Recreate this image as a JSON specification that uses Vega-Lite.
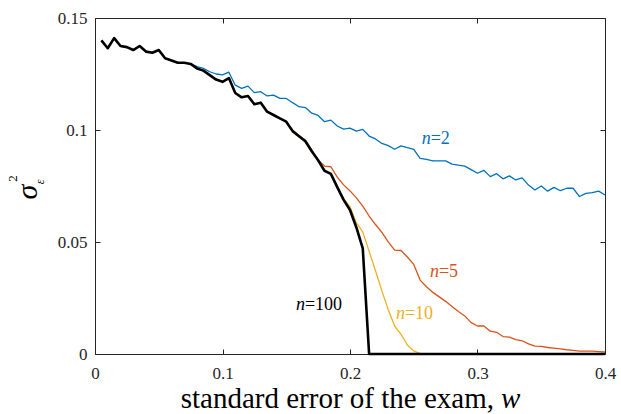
{
  "$schema": "https://vega.github.io/schema/vega-lite/v6.json",
  "width": 510,
  "height": 336,
  "autosize": {"type": "none"},
  "padding": {"left": 95, "top": 18, "right": 16, "bottom": 60},
  "background": "white",
  "config": {
    "view": {"stroke": null},
    "axis": {
      "domainColor": "#262626",
      "domainWidth": 1,
      "tickColor": "#262626",
      "tickWidth": 1,
      "tickSize": -5,
      "labelFont": "Liberation Serif",
      "labelFontSize": 17,
      "labelColor": "#262626",
      "grid": false,
      "title": null,
      "labelFlush": false,
      "labelOverlap": false,
      "labelBound": false
    }
  },
  "datasets": {
    "curves": [
      {"w": 0.005, "n2": 0.1400, "n5": 0.1400, "n10": 0.1400, "n100": 0.1400},
      {"w": 0.010, "n2": 0.1365, "n5": 0.1365, "n10": 0.1365, "n100": 0.1365},
      {"w": 0.015, "n2": 0.1410, "n5": 0.1410, "n10": 0.1410, "n100": 0.1410},
      {"w": 0.020, "n2": 0.1375, "n5": 0.1375, "n10": 0.1375, "n100": 0.1375},
      {"w": 0.025, "n2": 0.1370, "n5": 0.1370, "n10": 0.1370, "n100": 0.1370},
      {"w": 0.030, "n2": 0.1357, "n5": 0.1357, "n10": 0.1357, "n100": 0.1357},
      {"w": 0.035, "n2": 0.1375, "n5": 0.1375, "n10": 0.1375, "n100": 0.1375},
      {"w": 0.040, "n2": 0.1350, "n5": 0.1350, "n10": 0.1350, "n100": 0.1350},
      {"w": 0.045, "n2": 0.1345, "n5": 0.1345, "n10": 0.1345, "n100": 0.1345},
      {"w": 0.050, "n2": 0.1357, "n5": 0.1357, "n10": 0.1357, "n100": 0.1357},
      {"w": 0.055, "n2": 0.1320, "n5": 0.1320, "n10": 0.1320, "n100": 0.1320},
      {"w": 0.060, "n2": 0.1310, "n5": 0.1310, "n10": 0.1310, "n100": 0.1310},
      {"w": 0.065, "n2": 0.1300, "n5": 0.1300, "n10": 0.1300, "n100": 0.1300},
      {"w": 0.070, "n2": 0.1300, "n5": 0.1300, "n10": 0.1300, "n100": 0.1300},
      {"w": 0.075, "n2": 0.1295, "n5": 0.1295, "n10": 0.1295, "n100": 0.1295},
      {"w": 0.080, "n2": 0.1283, "n5": 0.1275, "n10": 0.1275, "n100": 0.1275},
      {"w": 0.085, "n2": 0.1275, "n5": 0.1265, "n10": 0.1265, "n100": 0.1265},
      {"w": 0.090, "n2": 0.1260, "n5": 0.1245, "n10": 0.1245, "n100": 0.1245},
      {"w": 0.095, "n2": 0.1250, "n5": 0.1225, "n10": 0.1225, "n100": 0.1225},
      {"w": 0.100, "n2": 0.1246, "n5": 0.1215, "n10": 0.1215, "n100": 0.1215},
      {"w": 0.105, "n2": 0.1258, "n5": 0.1232, "n10": 0.1232, "n100": 0.1232},
      {"w": 0.110, "n2": 0.1200, "n5": 0.1165, "n10": 0.1165, "n100": 0.1165},
      {"w": 0.115, "n2": 0.1186, "n5": 0.1146, "n10": 0.1146, "n100": 0.1146},
      {"w": 0.120, "n2": 0.1196, "n5": 0.1152, "n10": 0.1152, "n100": 0.1152},
      {"w": 0.125, "n2": 0.1167, "n5": 0.1115, "n10": 0.1115, "n100": 0.1115},
      {"w": 0.130, "n2": 0.1171, "n5": 0.1122, "n10": 0.1122, "n100": 0.1122},
      {"w": 0.135, "n2": 0.1152, "n5": 0.1082, "n10": 0.1082, "n100": 0.1082},
      {"w": 0.140, "n2": 0.1156, "n5": 0.1067, "n10": 0.1067, "n100": 0.1067},
      {"w": 0.145, "n2": 0.1141, "n5": 0.1052, "n10": 0.1052, "n100": 0.1052},
      {"w": 0.150, "n2": 0.1141, "n5": 0.1037, "n10": 0.1037, "n100": 0.1037},
      {"w": 0.155, "n2": 0.1122, "n5": 0.0998, "n10": 0.0995, "n100": 0.0995},
      {"w": 0.160, "n2": 0.1104, "n5": 0.0975, "n10": 0.0972, "n100": 0.0972},
      {"w": 0.165, "n2": 0.1100, "n5": 0.0955, "n10": 0.0950, "n100": 0.0950},
      {"w": 0.170, "n2": 0.1075, "n5": 0.0910, "n10": 0.0905, "n100": 0.0905},
      {"w": 0.175, "n2": 0.1065, "n5": 0.0866, "n10": 0.0865, "n100": 0.0865},
      {"w": 0.180, "n2": 0.1037, "n5": 0.0839, "n10": 0.0818, "n100": 0.0818},
      {"w": 0.185, "n2": 0.1044, "n5": 0.0836, "n10": 0.0804, "n100": 0.0804},
      {"w": 0.190, "n2": 0.1018, "n5": 0.0790, "n10": 0.0747, "n100": 0.0745},
      {"w": 0.195, "n2": 0.1004, "n5": 0.0755, "n10": 0.0695, "n100": 0.0688},
      {"w": 0.200, "n2": 0.1008, "n5": 0.0728, "n10": 0.0657, "n100": 0.0643},
      {"w": 0.205, "n2": 0.0995, "n5": 0.0697, "n10": 0.0585, "n100": 0.0565},
      {"w": 0.210, "n2": 0.1003, "n5": 0.0660, "n10": 0.0545, "n100": 0.0472},
      {"w": 0.215, "n2": 0.0973, "n5": 0.0616, "n10": 0.0458, "n100": 0},
      {"w": 0.220, "n2": 0.0960, "n5": 0.0578, "n10": 0.0372, "n100": 0},
      {"w": 0.225, "n2": 0.0940, "n5": 0.0543, "n10": 0.0282, "n100": 0},
      {"w": 0.230, "n2": 0.0930, "n5": 0.0501, "n10": 0.0198, "n100": 0},
      {"w": 0.235, "n2": 0.0914, "n5": 0.0464, "n10": 0.0125, "n100": 0},
      {"w": 0.240, "n2": 0.0929, "n5": 0.0462, "n10": 0.0088, "n100": 0},
      {"w": 0.245, "n2": 0.0921, "n5": 0.0433, "n10": 0.0040, "n100": 0},
      {"w": 0.250, "n2": 0.0914, "n5": 0.0400, "n10": 0.0014, "n100": 0},
      {"w": 0.255, "n2": 0.0873, "n5": 0.0330, "n10": 0.0002, "n100": 0},
      {"w": 0.260, "n2": 0.0869, "n5": 0.0300, "n10": 0, "n100": 0},
      {"w": 0.265, "n2": 0.0862, "n5": 0.0275, "n10": 0, "n100": 0},
      {"w": 0.270, "n2": 0.0862, "n5": 0.0255, "n10": 0, "n100": 0},
      {"w": 0.275, "n2": 0.0862, "n5": 0.0235, "n10": 0, "n100": 0},
      {"w": 0.280, "n2": 0.0848, "n5": 0.0212, "n10": 0, "n100": 0},
      {"w": 0.285, "n2": 0.0843, "n5": 0.0190, "n10": 0, "n100": 0},
      {"w": 0.290, "n2": 0.0839, "n5": 0.0170, "n10": 0, "n100": 0},
      {"w": 0.295, "n2": 0.0823, "n5": 0.0140, "n10": 0, "n100": 0},
      {"w": 0.300, "n2": 0.0807, "n5": 0.0125, "n10": 0, "n100": 0},
      {"w": 0.305, "n2": 0.0820, "n5": 0.0125, "n10": 0, "n100": 0},
      {"w": 0.310, "n2": 0.0792, "n5": 0.0102, "n10": 0, "n100": 0},
      {"w": 0.315, "n2": 0.0805, "n5": 0.0097, "n10": 0, "n100": 0},
      {"w": 0.320, "n2": 0.0782, "n5": 0.0078, "n10": 0, "n100": 0},
      {"w": 0.325, "n2": 0.0795, "n5": 0.0075, "n10": 0, "n100": 0},
      {"w": 0.330, "n2": 0.0777, "n5": 0.0064, "n10": 0, "n100": 0},
      {"w": 0.335, "n2": 0.0786, "n5": 0.0059, "n10": 0, "n100": 0},
      {"w": 0.340, "n2": 0.0754, "n5": 0.0045, "n10": 0, "n100": 0},
      {"w": 0.345, "n2": 0.0732, "n5": 0.0035, "n10": 0, "n100": 0},
      {"w": 0.350, "n2": 0.0750, "n5": 0.0034, "n10": 0, "n100": 0},
      {"w": 0.355, "n2": 0.0727, "n5": 0.0029, "n10": 0, "n100": 0},
      {"w": 0.360, "n2": 0.0744, "n5": 0.0026, "n10": 0, "n100": 0},
      {"w": 0.365, "n2": 0.0729, "n5": 0.0023, "n10": 0, "n100": 0},
      {"w": 0.370, "n2": 0.0740, "n5": 0.0019, "n10": 0, "n100": 0},
      {"w": 0.375, "n2": 0.0740, "n5": 0.0016, "n10": 0, "n100": 0},
      {"w": 0.380, "n2": 0.0703, "n5": 0.0013, "n10": 0, "n100": 0},
      {"w": 0.385, "n2": 0.0717, "n5": 0.0013, "n10": 0, "n100": 0},
      {"w": 0.390, "n2": 0.0720, "n5": 0.0013, "n10": 0, "n100": 0},
      {"w": 0.395, "n2": 0.0727, "n5": 0.0011, "n10": 0, "n100": 0},
      {"w": 0.400, "n2": 0.0710, "n5": 0.0009, "n10": 0, "n100": 0}
    ],
    "labels": [
      {"s": "n2", "x": 0.2562, "y": 0.0938, "rest": "=2"},
      {"s": "n5", "x": 0.2627, "y": 0.0345, "rest": "=5"},
      {"s": "n10", "x": 0.2360, "y": 0.0155, "rest": "=10"},
      {"s": "n100", "x": 0.1576, "y": 0.0196, "rest": "=100"}
    ],
    "titles": [
      {"id": "sigma", "text": "σ", "x": -0.0455, "y": 0.0723},
      {"id": "sup", "text": "2", "x": -0.0612, "y": 0.0783},
      {"id": "sub", "text": "ε", "x": -0.0400, "y": 0.0768},
      {"id": "xmain", "text": "standard error of the exam,", "x": 0.3129, "y": -0.0239},
      {"id": "xw", "text": "w", "x": 0.3129, "y": -0.0239}
    ]
  },
  "layer": [
    {
      "data": {"name": "curves"},
      "transform": [{"fold": ["n2", "n5", "n10"], "as": ["series", "v"]}],
      "mark": {"type": "line", "strokeWidth": 1.3, "strokeJoin": "round"},
      "encoding": {
        "x": {"field": "w", "type": "quantitative", "scale": {"domain": [0, 0.4]},
              "axis": {"orient": "bottom", "values": [0, 0.1, 0.2, 0.3, 0.4], "labelExpr": "'' + datum.value", "labelPadding": 16}},
        "y": {"field": "v", "type": "quantitative", "scale": {"domain": [0, 0.15]},
              "axis": {"orient": "left", "values": [0, 0.05, 0.1, 0.15], "labelExpr": "'' + datum.value", "labelPadding": 13}},
        "color": {"field": "series", "type": "nominal",
                  "scale": {"domain": ["n2", "n5", "n10", "n100"], "range": ["#0072BD", "#D95319", "#EDB120", "#000000"]},
                  "legend": null}
      }
    },
    {
      "data": {"name": "curves"},
      "mark": {"type": "line", "strokeWidth": 2.6, "color": "#000000", "strokeJoin": "round"},
      "encoding": {
        "x": {"field": "w", "type": "quantitative", "scale": {"domain": [0, 0.4]}, "axis": null},
        "y": {"field": "n100", "type": "quantitative", "scale": {"domain": [0, 0.15]}, "axis": null}
      }
    },
    {
      "data": {"name": "curves"},
      "mark": {"type": "point", "opacity": 0},
      "encoding": {
        "x": {"field": "w", "type": "quantitative", "scale": {"domain": [0, 0.4]},
              "axis": {"orient": "top", "values": [0, 0.1, 0.2, 0.3, 0.4], "labels": false}},
        "y": {"field": "n100", "type": "quantitative", "scale": {"domain": [0, 0.15]},
              "axis": {"orient": "right", "values": [0, 0.05, 0.1, 0.15], "labels": false}}
      }
    },
    {
      "data": {"name": "labels"},
      "mark": {"type": "text", "text": "n", "align": "left", "baseline": "alphabetic", "font": "Liberation Serif", "fontStyle": "italic", "fontSize": 18},
      "encoding": {
        "x": {"field": "x", "type": "quantitative", "scale": {"domain": [0, 0.4]}, "axis": null},
        "y": {"field": "y", "type": "quantitative", "scale": {"domain": [0, 0.15]}, "axis": null},
        "color": {"field": "s", "type": "nominal", "legend": null}
      }
    },
    {
      "data": {"name": "labels"},
      "mark": {"type": "text", "dx": 9, "align": "left", "baseline": "alphabetic", "font": "Liberation Serif", "fontSize": 18},
      "encoding": {
        "x": {"field": "x", "type": "quantitative", "scale": {"domain": [0, 0.4]}, "axis": null},
        "y": {"field": "y", "type": "quantitative", "scale": {"domain": [0, 0.15]}, "axis": null},
        "text": {"field": "rest"},
        "color": {"field": "s", "type": "nominal", "legend": null}
      }
    },
    {
      "data": {"name": "titles"},
      "transform": [{"filter": "datum.id == 'sigma'"}],
      "mark": {"type": "text", "angle": 270, "align": "center", "baseline": "alphabetic", "font": "Liberation Serif", "fontStyle": "italic", "fontSize": 30, "color": "#000000"},
      "encoding": {
        "x": {"field": "x", "type": "quantitative", "scale": {"domain": [0, 0.4]}, "axis": null},
        "y": {"field": "y", "type": "quantitative", "scale": {"domain": [0, 0.15]}, "axis": null},
        "text": {"field": "text"}
      }
    },
    {
      "data": {"name": "titles"},
      "transform": [{"filter": "datum.id == 'sup'"}],
      "mark": {"type": "text", "angle": 270, "align": "center", "baseline": "alphabetic", "font": "Liberation Serif", "fontSize": 13, "color": "#000000"},
      "encoding": {
        "x": {"field": "x", "type": "quantitative", "scale": {"domain": [0, 0.4]}, "axis": null},
        "y": {"field": "y", "type": "quantitative", "scale": {"domain": [0, 0.15]}, "axis": null},
        "text": {"field": "text"}
      }
    },
    {
      "data": {"name": "titles"},
      "transform": [{"filter": "datum.id == 'sub'"}],
      "mark": {"type": "text", "angle": 270, "align": "center", "baseline": "alphabetic", "font": "Liberation Serif", "fontStyle": "italic", "fontSize": 12, "color": "#000000"},
      "encoding": {
        "x": {"field": "x", "type": "quantitative", "scale": {"domain": [0, 0.4]}, "axis": null},
        "y": {"field": "y", "type": "quantitative", "scale": {"domain": [0, 0.15]}, "axis": null},
        "text": {"field": "text"}
      }
    },
    {
      "data": {"name": "titles"},
      "transform": [{"filter": "datum.id == 'xmain'"}],
      "mark": {"type": "text", "align": "right", "baseline": "alphabetic", "font": "Liberation Serif", "fontSize": 29, "color": "#000000"},
      "encoding": {
        "x": {"field": "x", "type": "quantitative", "scale": {"domain": [0, 0.4]}, "axis": null},
        "y": {"field": "y", "type": "quantitative", "scale": {"domain": [0, 0.15]}, "axis": null},
        "text": {"field": "text"}
      }
    },
    {
      "data": {"name": "titles"},
      "transform": [{"filter": "datum.id == 'xw'"}],
      "mark": {"type": "text", "dx": 7, "align": "left", "baseline": "alphabetic", "font": "Liberation Serif", "fontStyle": "italic", "fontSize": 29, "color": "#000000"},
      "encoding": {
        "x": {"field": "x", "type": "quantitative", "scale": {"domain": [0, 0.4]}, "axis": null},
        "y": {"field": "y", "type": "quantitative", "scale": {"domain": [0, 0.15]}, "axis": null},
        "text": {"field": "text"}
      }
    }
  ],
  "resolve": {"axis": {"x": "independent", "y": "independent"}}
}
